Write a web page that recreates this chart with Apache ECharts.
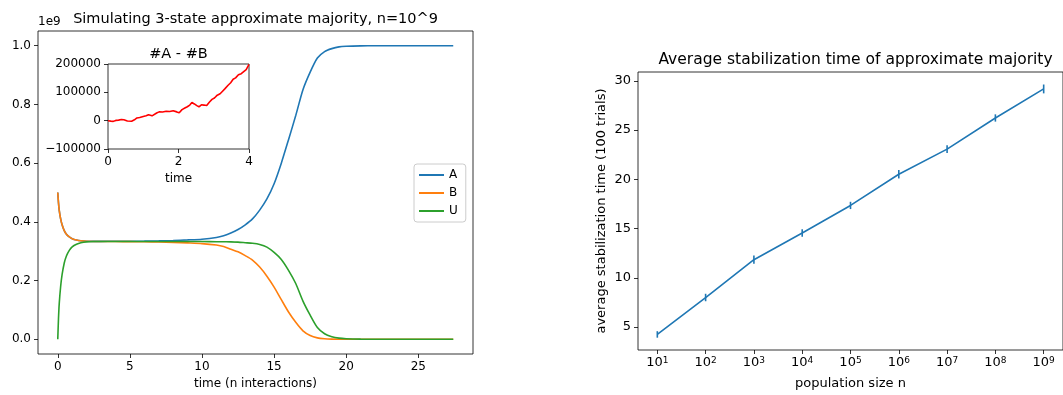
<!DOCTYPE html>
<html><head><meta charset="utf-8">
<script src="https://cdn.jsdelivr.net/npm/echarts@6/dist/echarts.min.js"></script>
<style>html,body{margin:0;padding:0;background:#fff}#c{width:1063px;height:395px}</style>
</head><body><div id="c"></div>
<script>
// ---- Left main plot: counts (in units of 1e9) over time ----
const timeT  = [0, 0.05, 0.1, 0.2, 0.3, 0.45, 0.6, 0.8, 1.0, 1.3, 1.6, 2.0, 2.5, 3, 4, 5, 6, 7, 8, 9, 10, 11, 11.5, 12, 12.5, 13, 13.5, 14, 14.5, 15, 15.5, 16, 16.5, 17, 17.5, 18, 18.5, 19, 19.5, 20, 21, 22, 24, 26, 27.42];
const countA = [0.5, 0.465, 0.44, 0.41, 0.39, 0.37, 0.358, 0.3485, 0.3425, 0.338, 0.3355, 0.334, 0.3335, 0.3337, 0.3338, 0.334, 0.3345, 0.3352, 0.3365, 0.3385, 0.341, 0.347, 0.353, 0.362, 0.374, 0.39, 0.41, 0.44, 0.478, 0.53, 0.60, 0.68, 0.762, 0.85, 0.91, 0.958, 0.98, 0.99, 0.996, 0.998, 0.9995, 1.0, 1.0, 1.0, 1.0];
const countB = [0.5, 0.465, 0.44, 0.41, 0.39, 0.37, 0.358, 0.3485, 0.3425, 0.338, 0.3355, 0.334, 0.3333, 0.333, 0.3329, 0.3327, 0.3322, 0.3315, 0.3302, 0.3283, 0.326, 0.321, 0.316, 0.307, 0.298, 0.285, 0.27, 0.246, 0.215, 0.178, 0.135, 0.093, 0.058, 0.029, 0.013, 0.005, 0.002, 0.0008, 0.0003, 0.0001, 0, 0, 0, 0, 0];
const countU = [0, 0.07, 0.12, 0.18, 0.22, 0.26, 0.284, 0.303, 0.315, 0.324, 0.329, 0.332, 0.333, 0.3333, 0.3333, 0.3333, 0.3333, 0.3333, 0.3333, 0.3332, 0.333, 0.3325, 0.3322, 0.332, 0.331, 0.329, 0.327, 0.323, 0.314, 0.296, 0.272, 0.235, 0.19, 0.13, 0.082, 0.04, 0.019, 0.009, 0.004, 0.002, 0.0005, 0.0001, 0, 0, 0];
const mainXTicks = [0, 5, 10, 15, 20, 25];
const mainYTicks = [0, 0.2, 0.4, 0.6, 0.8, 1.0];

// ---- Inset: #A - #B ----
const insetTime = [0, 0.08, 0.15, 0.22, 0.3, 0.38, 0.45, 0.5, 0.55, 0.6, 0.67, 0.75, 0.82, 0.9, 1.0, 1.08, 1.15, 1.2, 1.25, 1.3, 1.38, 1.45, 1.55, 1.65, 1.75, 1.85, 1.95, 2.02, 2.1, 2.18, 2.25, 2.32, 2.38, 2.45, 2.52, 2.58, 2.65, 2.72, 2.8, 2.88, 2.95, 3.02, 3.1, 3.18, 3.25, 3.32, 3.4, 3.48, 3.55, 3.62, 3.7, 3.78, 3.85, 3.92, 4.0];
const insetDiff = [0, -1500, -2500, 1000, 2000, 4000, 3500, 5000, -1000, -4500, -2000, 3000, 9500, 11000, 15000, 17500, 21000, 23500, 17000, 15000, 27000, 31000, 30500, 33000, 32500, 35000, 31000, 28000, 39000, 44500, 49000, 55000, 64000, 59000, 53000, 49000, 56000, 55000, 53500, 66000, 75000, 80000, 90000, 95000, 104000, 113000, 124000, 134000, 146000, 151000, 162000, 166000, 173000, 180000, 199000];

// ---- Right plot: average stabilization time ----
const popExp = [1, 2, 3, 4, 5, 6, 7, 8, 9];            // population size n = 10^popExp
const avgStabTime = [4.25, 8.0, 11.84, 14.55, 17.35, 20.52, 23.07, 26.23, 29.18];
const stabErr = [0.33, 0.38, 0.42, 0.38, 0.37, 0.43, 0.40, 0.37, 0.45];
const rightYTicks = [5, 10, 15, 20, 25, 30];

const FONT = 'DejaVu Sans';
const FS = 12, FSR = 13;
const txt = {color: '#000', fontFamily: FONT, fontSize: FS};
const txtR = {color: '#000', fontFamily: FONT, fontSize: FSR};
function zipXY(xs, ys) { return xs.map((x, i) => [x, ys[i]]); }
const tickStyle = {show: true, length: 4, lineStyle: {color: '#000', width: 0.8}};
function axisCommon(extra) {
  return Object.assign({
    type: 'value', splitLine: {show: false},
    axisLine: {show: false, onZero: false},
    axisTick: tickStyle,
    axisLabel: Object.assign({margin: 6}, txt),
    nameTextStyle: txt
  }, extra);
}
const minus = v => (v < 0 ? '\u2212' + Math.abs(v) : String(v));

const chart = echarts.init(document.getElementById('c'), null, {renderer: 'canvas'});
chart.setOption({
  animation: false,
  backgroundColor: '#fff',
  grid: [
    {left: 38, top: 31, width: 435, height: 324, show: true, borderColor: '#000', borderWidth: 0.8},
    {left: 108, top: 64, width: 141, height: 85, show: true, borderColor: '#000', borderWidth: 0.8, backgroundColor: '#fff', z: 5},
    {left: 638, top: 72, width: 435, height: 283, show: true, borderColor: '#000', borderWidth: 0.8}
  ],
  xAxis: [
    axisCommon({gridIndex: 0, min: -1.37, max: 28.79,
      axisTick: Object.assign({customValues: mainXTicks}, tickStyle),
      axisLabel: Object.assign({margin: 7, customValues: mainXTicks, formatter: v => String(v)}, txt),
      name: 'time (n interactions)', nameLocation: 'middle', nameGap: 24}),
    axisCommon({gridIndex: 1, min: 0, max: 4, interval: 2,
      axisLabel: Object.assign({margin: 7}, txt),
      name: 'time', nameLocation: 'middle', nameGap: 24, z: 6}),
    axisCommon({gridIndex: 2, min: 0.6, max: 9.4,
      axisTick: Object.assign({customValues: popExp}, tickStyle),
      axisLabel: {margin: 6, customValues: popExp, formatter: v => '{b|10}{s|' + v + '}',
        rich: {b: {fontSize: FSR, fontFamily: FONT, color: '#000'}, s: {fontSize: 9, fontFamily: FONT, color: '#000', verticalAlign: 'top'}}},
      name: 'population size n', nameLocation: 'middle', nameGap: 27, nameTextStyle: txtR})
  ],
  yAxis: [
    axisCommon({gridIndex: 0, min: -0.05, max: 1.05,
      axisTick: Object.assign({customValues: mainYTicks}, tickStyle),
      axisLabel: Object.assign({margin: 7, customValues: mainYTicks, formatter: v => v.toFixed(1)}, txt)}),
    axisCommon({gridIndex: 1, min: -100000, max: 200000, interval: 100000,
      axisLabel: Object.assign({margin: 7, formatter: minus}, txt), z: 6}),
    axisCommon({gridIndex: 2, min: 2.67, max: 30.9,
      axisTick: Object.assign({customValues: rightYTicks}, tickStyle),
      axisLabel: Object.assign({margin: 7, customValues: rightYTicks, formatter: v => String(v)}, txtR),
      name: 'average stabilization time (100 trials)', nameLocation: 'middle', nameGap: 30, nameRotate: 90, nameTextStyle: txtR})
  ],
  legend: {
    left: 414, top: 164, orient: 'vertical', icon: 'rect', itemWidth: 25, itemHeight: 2, itemGap: 4,
    padding: [4, 8, 4, 5], borderColor: '#ccc', borderWidth: 1, borderRadius: 3, backgroundColor: 'rgba(255,255,255,0.8)',
    textStyle: Object.assign({lineHeight: 14}, txt),
    data: ['A', 'B', 'U']
  },
  graphic: [
    {type: 'text', x: 255.5, y: 19, style: {text: 'Simulating 3-state approximate majority, n=10^9', fontSize: 14.5, fontFamily: FONT, fill: '#000', align: 'center', verticalAlign: 'middle'}},
    {type: 'text', x: 38, y: 22, style: {text: '1e9', fontSize: FS, fontFamily: FONT, fill: '#000', align: 'left', verticalAlign: 'middle'}},
    {type: 'text', x: 178.5, y: 54, style: {text: '#A - #B', fontSize: 14.5, fontFamily: FONT, fill: '#000', align: 'center', verticalAlign: 'middle'}},
    {type: 'text', x: 855.5, y: 59.5, style: {text: 'Average stabilization time of approximate majority', fontSize: 15.5, fontFamily: FONT, fill: '#000', align: 'center', verticalAlign: 'middle'}}
  ],
  series: [
    {name: 'A', type: 'line', xAxisIndex: 0, yAxisIndex: 0, data: zipXY(timeT, countA), smooth: 0.25, showSymbol: false, symbol: 'none', lineStyle: {color: '#1f77b4', width: 1.6}, itemStyle: {color: '#1f77b4'}},
    {name: 'B', type: 'line', xAxisIndex: 0, yAxisIndex: 0, data: zipXY(timeT, countB), smooth: 0.25, showSymbol: false, symbol: 'none', lineStyle: {color: '#ff7f0e', width: 1.6}, itemStyle: {color: '#ff7f0e'}},
    {name: 'U', type: 'line', xAxisIndex: 0, yAxisIndex: 0, data: zipXY(timeT, countU), smooth: 0.25, showSymbol: false, symbol: 'none', lineStyle: {color: '#2ca02c', width: 1.6}, itemStyle: {color: '#2ca02c'}},
    {name: '#A - #B', type: 'line', xAxisIndex: 1, yAxisIndex: 1, data: zipXY(insetTime, insetDiff), showSymbol: false, symbol: 'none', lineStyle: {color: '#ff0000', width: 1.6}, z: 6},
    {name: 'avg', type: 'line', xAxisIndex: 2, yAxisIndex: 2, data: zipXY(popExp, avgStabTime), showSymbol: false, symbol: 'none', lineStyle: {color: '#1f77b4', width: 1.6}},
    {name: 'err', type: 'custom', xAxisIndex: 2, yAxisIndex: 2,
      data: popExp.map((e, i) => [e, avgStabTime[i], stabErr[i]]),
      encode: {x: 0, y: 1},
      renderItem: (params, api) => {
        const x = api.value(0), y = api.value(1), e = api.value(2);
        const p1 = api.coord([x, y - e]), p2 = api.coord([x, y + e]);
        return {type: 'line', shape: {x1: p1[0], y1: p1[1], x2: p2[0], y2: p2[1]}, style: {stroke: '#1f77b4', lineWidth: 1.6}};
      }}
  ]
});
</script>
</body></html>
